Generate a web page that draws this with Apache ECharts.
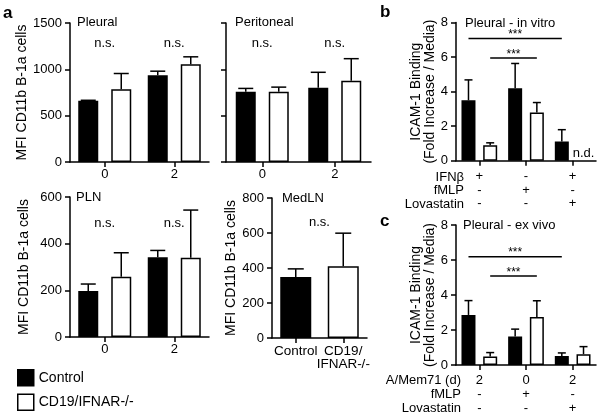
<!DOCTYPE html>
<html><head><meta charset="utf-8">
<script src="https://cdn.jsdelivr.net/npm/echarts@6/dist/echarts.min.js"></script>
<style>html,body{margin:0;padding:0;background:#fff}#c{width:601px;height:416px}</style>
</head><body><div id="c"></div>
<script>
// ---------- data ----------
const dayCats = ['0', '2'];
const pleuralControl = [660, 935];
const pleuralControlErr = [6, 45];
const pleuralKO = [785, 1055];
const pleuralKOErr = [170, 80];
const peritonealControl = [758, 800];
const peritonealControlErr = [36, 168];
const peritonealKO = [758, 877];
const peritonealKOErr = [50, 238];
const plnControl = [197, 342];
const plnControlErr = [30, 29];
const plnKO = [258, 340];
const plnKOErr = [103, 204];
const medlnCats = ['Control', 'CD19/\nIFNAR-/-'];
const medlnValues = [348, 410];
const medlnErr = [47, 189];

const inVitroIFNb = ['+', '-', '+'];
const inVitroFMLP = ['-', '+', '-'];
const inVitroLova = ['-', '-', '+'];
const inVitroControl = [3.5, 4.2, 1.12];
const inVitroControlErr = [1.18, 1.43, 0.68];
const inVitroKO = [0.9, 2.8, null];   // null = n.d.
const inVitroKOErr = [0.14, 0.57, null];

const exVivoAMem = ['2', '0', '2'];
const exVivoFMLP = ['-', '+', '-'];
const exVivoLova = ['-', '-', '+'];
const exVivoControl = [2.86, 1.63, 0.51];
const exVivoControlErr = [0.82, 0.42, 0.18];
const exVivoKO = [0.48, 2.75, 0.62];
const exVivoKOErr = [0.23, 0.92, 0.43];

// y-axis scales [max, interval]
const pleuralScale = [1500, 500];
const plnScale = [600, 200];
const medlnScale = [800, 200];
const icamScale = [8, 2];

// annotations: side -1 = Control bar, +1 = KO bar, 0 = category centre
const pleuralNs = [{c1: 0, s1: 0, c2: 0, s2: 0, y: 1285, text: 'n.s.'}, {c1: 1, s1: 0, c2: 1, s2: 0, y: 1285, text: 'n.s.'}];
const plnNs = [{c1: 0, s1: 0, c2: 0, s2: 0, y: 487, text: 'n.s.'}, {c1: 1, s1: 0, c2: 1, s2: 0, y: 487, text: 'n.s.'}];
const medlnNs = [{c1: 0, s1: 0, c2: 1, s2: 0, y: 660, text: 'n.s.'}];
const inVitroSig = [{c1: 0, s1: -1, c2: 2, s2: -1, y: 7.07, text: '***', line: true}, {c1: 0, s1: 1, c2: 1, s2: 1, y: 5.95, text: '***', line: true}];
const exVivoSig = [{c1: 0, s1: -1, c2: 2, s2: -1, y: 6.19, text: '***', line: true}, {c1: 0, s1: 1, c2: 1, s2: 1, y: 5.09, text: '***', line: true}];

// ---------- helpers ----------
const FONT = '"Liberation Sans", Arial, Helvetica, sans-serif';
const BLACK = '#000';
const LW = 1.5;
const chart = echarts.init(document.getElementById('c'), null, {renderer: 'canvas'});

function xAxis(gi, data, labelOpts) {
  return {
    gridIndex: gi, type: 'category', data: data,
    axisLine: {show: true, onZero: false, lineStyle: {color: BLACK, width: LW}},
    axisTick: {show: true, alignWithLabel: true, length: 5, lineStyle: {color: BLACK, width: LW}},
    axisLabel: Object.assign({color: BLACK, fontSize: 13, fontFamily: FONT, margin: 6, interval: 0}, labelOpts || {}),
    splitLine: {show: false}
  };
}
function yAxis(gi, scale, name, nameGap, showLabel, nameOpts) {
  return {
    gridIndex: gi, type: 'value', min: 0, max: scale[0], interval: scale[1],
    name: name || '', nameLocation: 'middle', nameGap: nameGap || 0,
    nameTextStyle: Object.assign({color: BLACK, fontSize: 14, fontFamily: FONT}, nameOpts || {}),
    axisLine: {show: true, lineStyle: {color: BLACK, width: LW}},
    axisTick: {show: true, length: 5, lineStyle: {color: BLACK, width: LW}},
    axisLabel: {show: showLabel !== false, color: BLACK, fontSize: 13, fontFamily: FONT, margin: 8, formatter: v => String(v)},
    splitLine: {show: false}
  };
}
const ctrlStyle = {color: BLACK, borderColor: BLACK, borderWidth: LW};
const koStyle = {color: '#fff', borderColor: BLACK, borderWidth: LW};

function barPair(ai, ctrl, ko, bw, gap) {
  const koData = ko.map(v => v == null
    ? {value: 0, itemStyle: {borderWidth: 0}, label: {show: true, formatter: 'n.d.', position: 'top', distance: 1, color: BLACK, fontSize: 13, fontFamily: FONT}}
    : v);
  return [
    {type: 'bar', name: 'Control', xAxisIndex: ai, yAxisIndex: ai, data: ctrl, barWidth: bw, barGap: gap, itemStyle: ctrlStyle, silent: true},
    {type: 'bar', name: 'CD19/IFNAR-/-', xAxisIndex: ai, yAxisIndex: ai, data: koData, barWidth: bw, barGap: gap, itemStyle: koStyle, silent: true}
  ];
}
function errSeries(ai, vals, errs, offset, cap) {
  const data = vals.map((v, i) => v == null ? [i, NaN, NaN] : [i, v, v + errs[i]]);
  return {
    type: 'custom', xAxisIndex: ai, yAxisIndex: ai, silent: true, z: 3,
    data: data,
    renderItem: function (params, api) {
      if (isNaN(api.value(1))) return null;
      const p1 = api.coord([api.value(0), api.value(1)]);
      const p2 = api.coord([api.value(0), api.value(2)]);
      const x = p1[0] + offset;
      const st = {stroke: BLACK, lineWidth: LW};
      return {type: 'group', children: [
        {type: 'line', shape: {x1: x, y1: p1[1], x2: x, y2: p2[1]}, style: st},
        {type: 'line', shape: {x1: x - cap / 2, y1: p2[1], x2: x + cap / 2, y2: p2[1]}, style: st}
      ]};
    }
  };
}
function annSeries(ai, items, offset, fontSize) {
  return {
    type: 'custom', xAxisIndex: ai, yAxisIndex: ai, silent: true, z: 4,
    data: items.map(it => [it.c1, it.y]),
    renderItem: function (params, api) {
      const it = items[params.dataIndex];
      const p1 = api.coord([it.c1, it.y]);
      const p2 = api.coord([it.c2, it.y]);
      const x1 = p1[0] + it.s1 * offset, x2 = p2[0] + it.s2 * offset, y = p1[1];
      const children = [];
      if (it.line) children.push({type: 'line', shape: {x1: x1, y1: y, x2: x2, y2: y}, style: {stroke: BLACK, lineWidth: LW}});
      children.push({type: 'text', x: (x1 + x2) / 2, y: it.line ? y - 3.5 : y,
        style: {text: it.text, fill: BLACK, font: fontSize + 'px ' + FONT, textAlign: 'center', textVerticalAlign: 'middle', align: 'center', verticalAlign: 'middle'}});
      return {type: 'group', children: children};
    }
  };
}
function txt(text, x, y, size, opts) {
  return {type: 'text', x: x, y: y, silent: true,
    style: Object.assign({text: text, fill: BLACK, font: size + 'px ' + FONT, textAlign: 'left', textVerticalAlign: 'middle', align: 'left', verticalAlign: 'middle'}, (opts && opts.style) || {})};
}

const A_BW = 20, A_GAP = '65%', A_OFF = (20 * 1.65) / 2;
const B_BW = 14, B_GAP = '55%', B_OFF = (14 * 1.55) / 2;
const yName = 'MFI CD11b B-1a cells';
const icamName = 'ICAM-1 Binding\n(Fold Increase / Media)';
const rows = (a, b, c) => (v, i) => [a[i], b[i], c[i]].join('\n');

const option = {
  animation: false,
  backgroundColor: '#fff',
  textStyle: {fontFamily: FONT},
  grid: [
    {left: 70, top: 23, width: 139, height: 139, outerBoundsMode: 'none'},
    {left: 226, top: 23, width: 145, height: 139, outerBoundsMode: 'none'},
    {left: 70, top: 197, width: 139, height: 140, outerBoundsMode: 'none'},
    {left: 272, top: 198, width: 95, height: 140, outerBoundsMode: 'none'},
    {left: 456, top: 22.5, width: 140, height: 138.3, outerBoundsMode: 'none'},
    {left: 456, top: 225, width: 140, height: 140, outerBoundsMode: 'none'}
  ],
  xAxis: [
    xAxis(0, dayCats), xAxis(1, dayCats), xAxis(2, dayCats),
    xAxis(3, medlnCats, {margin: 7, lineHeight: 13, fontSize: 13.5}),
    xAxis(4, inVitroIFNb, {margin: 9, lineHeight: 13.5, formatter: rows(inVitroIFNb, inVitroFMLP, inVitroLova)}),
    xAxis(5, exVivoAMem, {margin: 8, lineHeight: 14, formatter: rows(exVivoAMem, exVivoFMLP, exVivoLova)})
  ],
  yAxis: [
    yAxis(0, pleuralScale, yName, 39),
    yAxis(1, pleuralScale, '', 0, false),
    yAxis(2, plnScale, yName, 39),
    yAxis(3, medlnScale, yName, 33),
    yAxis(4, icamScale, icamName, 15, true, {lineHeight: 14}),
    yAxis(5, icamScale, icamName, 15, true, {lineHeight: 14})
  ],
  legend: {
    orient: 'vertical', left: 17, top: 369, itemWidth: 16, itemHeight: 16, itemGap: 7, padding: 0,
    icon: 'rect', selectedMode: false,
    textStyle: {color: BLACK, fontSize: 14, fontFamily: FONT},
    data: [{name: 'Control', itemStyle: ctrlStyle}, {name: 'CD19/IFNAR-/-', itemStyle: koStyle}]
  },
  series: [].concat(
    barPair(0, pleuralControl, pleuralKO, A_BW, A_GAP),
    [errSeries(0, pleuralControl, pleuralControlErr, -A_OFF, 15), errSeries(0, pleuralKO, pleuralKOErr, A_OFF, 15), annSeries(0, pleuralNs, A_OFF, 13)],
    barPair(1, peritonealControl, peritonealKO, A_BW, A_GAP),
    [errSeries(1, peritonealControl, peritonealControlErr, -A_OFF, 15), errSeries(1, peritonealKO, peritonealKOErr, A_OFF, 15), annSeries(1, pleuralNs, A_OFF, 13)],
    barPair(2, plnControl, plnKO, A_BW, A_GAP),
    [errSeries(2, plnControl, plnControlErr, -A_OFF, 15), errSeries(2, plnKO, plnKOErr, A_OFF, 15), annSeries(2, plnNs, A_OFF, 13)],
    [{type: 'bar', name: 'MedLN', xAxisIndex: 3, yAxisIndex: 3, barWidth: 31, silent: true,
      data: medlnValues.map((v, i) => ({value: v, itemStyle: i === 0 ? ctrlStyle : koStyle}))},
     errSeries(3, medlnValues, medlnErr, 0, 16), annSeries(3, medlnNs, 0, 13)],
    barPair(4, inVitroControl, inVitroKO, B_BW, B_GAP),
    [errSeries(4, inVitroControl, inVitroControlErr, -B_OFF, 8), errSeries(4, inVitroKO, inVitroKOErr, B_OFF, 8), annSeries(4, inVitroSig, B_OFF, 12)],
    barPair(5, exVivoControl, exVivoKO, B_BW, B_GAP),
    [errSeries(5, exVivoControl, exVivoControlErr, -B_OFF, 8), errSeries(5, exVivoKO, exVivoKOErr, B_OFF, 8), annSeries(5, exVivoSig, B_OFF, 12)]
  ),
  graphic: [
    txt('a', 3, 13, 17, {style: {font: 'bold 17px ' + FONT}}),
    txt('b', 380, 12, 17, {style: {font: 'bold 17px ' + FONT}}),
    txt('c', 380, 221, 17, {style: {font: 'bold 17px ' + FONT}}),
    txt('Pleural', 77, 22, 13),
    txt('Peritoneal', 235, 22, 13),
    txt('PLN', 76, 197, 13),
    txt('MedLN', 282, 198, 13),
    txt('Pleural - in vitro', 465, 23, 13),
    txt('Pleural - ex vivo', 463, 225, 13),
    txt('IFNβ\nfMLP\nLovastatin', 464, 170.3, 13, {style: {textAlign: 'right', align: 'right', textVerticalAlign: 'top', verticalAlign: 'top', lineHeight: 13.5}}),
    txt('A/Mem71 (d)\nfMLP\nLovastatin', 461, 373, 13, {style: {textAlign: 'right', align: 'right', textVerticalAlign: 'top', verticalAlign: 'top', lineHeight: 14}})
  ]
};
chart.setOption(option);
</script></body></html>
